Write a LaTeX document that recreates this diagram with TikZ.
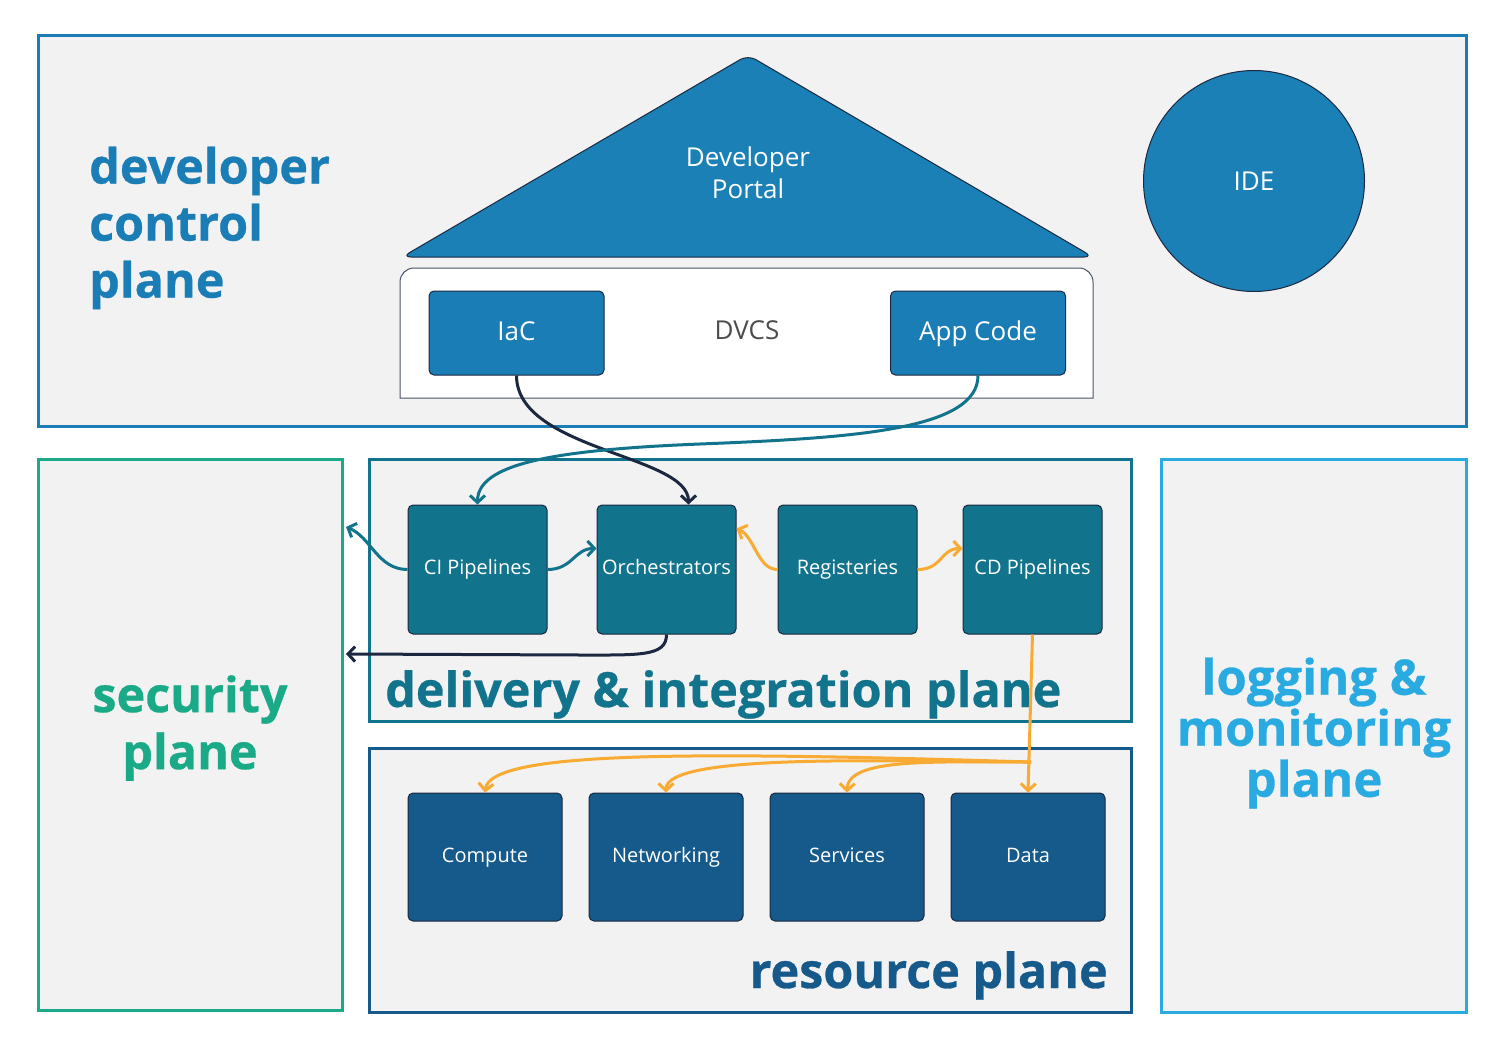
\documentclass[tikz,border=0pt]{standalone}
\usepackage{fontspec}
\setmainfont{Open Sans}
\newfontfamily\heavyfont[BoldFeatures={FakeBold=0.6}]{Open Sans}
\usetikzlibrary{arrows.meta,positioning}
\definecolor{bggray}{HTML}{F2F2F2}
\definecolor{dcpblue}{HTML}{1A7DB6}
\definecolor{portalblue}{HTML}{1A80B6}
\definecolor{ditel}{HTML}{12748C}
\definecolor{resblue}{HTML}{155A8A}
\definecolor{secgreen}{HTML}{1AAA88}
\definecolor{logblue}{HTML}{29ABE2}
\definecolor{flowor}{HTML}{F8AA33}
\definecolor{navy}{HTML}{1B2840}
\tikzset{
  plane/.style={draw, line width=3pt, fill=bggray, inner sep=0pt},
  comp/.style={rectangle, rounded corners=5pt, draw=navy, line width=1pt,
    text=white, font=\fontsize{20}{24}\selectfont, align=center,
    text height=14pt, text depth=4pt},
  toprow/.style={comp, fill=ditel, minimum width=139pt, minimum height=129pt},
  botrow/.style={comp, fill=resblue, minimum width=154pt, minimum height=128pt},
  dvbox/.style={comp, fill=dcpblue, minimum width=175pt, minimum height=84pt,
    font=\fontsize{26}{30}\selectfont, text height=18pt, text depth=4pt},
  bigtxt/.style={font=\fontsize{48.5}{57}\selectfont\heavyfont\bfseries, inner sep=0pt},
  flow/.style={line width=3pt, -{Straight Barb[length=7pt,width=15pt]}}
}
\begin{document}
\begin{tikzpicture}[x=1pt,y=-1pt]
  \useasboundingbox (0,0) rectangle (1512,1054);

  % the planes
  \node[plane, draw=dcpblue, minimum width=1428pt, minimum height=390pt] (dcp) at (752,231) {};
  \node[plane, draw=secgreen, minimum width=304pt, minimum height=551pt] (sec) at (190,734.5) {};
  \node[plane, draw=ditel, minimum width=762pt, minimum height=262pt] (dip) at (750,590) {};
  \node[plane, draw=resblue, minimum width=762pt, minimum height=264pt] (rp) at (750,880) {};
  \node[plane, draw=logblue, minimum width=305pt, minimum height=553pt] (lmp) at (1313.5,735.5) {};

  \node[bigtxt, text=dcpblue, anchor=west, align=left] (dcplbl) at (89,228) {developer\\control\\plane};
  \node[bigtxt, text=secgreen, align=center] (seclbl) at (190,728) {security\\plane};
  \node[bigtxt, text=ditel, anchor=base west] (diplbl) at (385,707) {delivery \& integration plane};
  \node[bigtxt, text=resblue, anchor=base east] (rplbl) at (1108,988) {resource plane};
  \node[bigtxt, text=logblue, align=center, font=\fontsize{49}{51}\selectfont\heavyfont\bfseries] (lmplbl) at (1314,733) {logging \&\\monitoring\\plane};

  % developer portal, dvcs, ide
  \draw[fill=portalblue, draw=navy, line width=1pt, rounded corners=9pt]
    (402,257) -- (748,55) -- (1093,257) -- cycle;
  \node[text=white, font=\fontsize{26}{32}\selectfont, align=center] (portal) at (748,173) {Developer\\Portal};
  \draw[fill=white, draw=navy!80, line width=1pt]
    (400,398) [rounded corners=14pt] -- (400,268) -- (1093,268) [sharp corners] -- (1093,398) -- cycle;
  \node[text=black!70, font=\fontsize{26}{30}\selectfont] (dvcs) at (747,330) {DVCS};
  \node[dvbox] (iac) at (516.5,333) {IaC};
  \node[dvbox] (app) at (978,333) {App Code};
  \node[circle, draw=navy, line width=1pt, fill=portalblue, minimum size=221pt,
    text=white, font=\fontsize{26}{30}\selectfont] (ide) at (1254,181) {IDE};

  % delivery & integration
  \node[toprow] (ci) at (477.5,569.5) {CI Pipelines};
  \node[toprow, right=49pt of ci] (orch) {Orchestrators};
  \node[toprow, right=41pt of orch] (reg) {Registeries};
  \node[toprow, right=45pt of reg] (cd) {CD Pipelines};

  % resources
  \node[botrow] (comp) at (485,857) {Compute};
  \node[botrow, right=26pt of comp] (net) {Networking};
  \node[botrow, right=26pt of net] (svc) {Services};
  \node[botrow, right=26pt of svc] (data) {Data};

  \coordinate (secA) at (346,527);
  \coordinate (secB) at (346,654);
  \coordinate (split) at (1031,762);

  % flows
  \draw[flow, navy] (iac.south) .. controls +(0,75) and +(0,-50) .. ([xshift=22pt]orch.north);
  \draw[flow, ditel] (app.south) .. controls +(0,55) and +(150,-6) .. (700,444)
    .. controls +(-150,6) and +(0,-40) .. (ci.north);
  \draw[flow, ditel] (ci.west) .. controls +(-30,0) and +(25,10) .. (secA);
  \draw[flow, ditel] (ci.east) .. controls +(25,0) and +(-22,0) .. ([yshift=21pt]orch.west);
  \draw[flow, navy] (orch.south) .. controls +(0,22) and +(60,0) .. (580,655) -- (secB);
  \draw[flow, flowor] (reg.west) .. controls +(-20,0) and +(18,8) .. ([yshift=41pt]orch.east);
  \draw[flow, flowor] (reg.east) .. controls +(25,0) and +(-22,0) .. ([yshift=21pt]cd.west);
  \draw[flow, flowor] (cd.south) -- (data.north);
  \draw[flow, flowor] (split) .. controls (700,752) and (490,750) .. (comp.north);
  \draw[flow, flowor] (split) .. controls (900,762) and (666,752) .. (net.north);
  \draw[flow, flowor] (split) .. controls (930,762) and (848,758) .. (svc.north);
\end{tikzpicture}
\end{document}
